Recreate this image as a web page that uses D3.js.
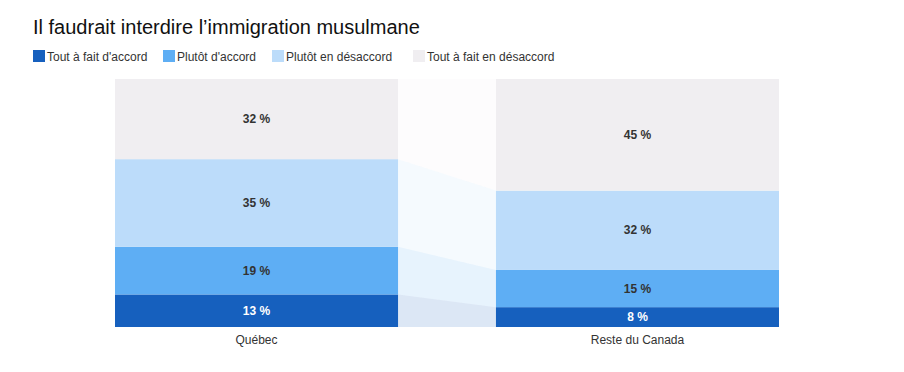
<!DOCTYPE html>
<html>
<head>
<meta charset="utf-8">
<script src="https://cdn.jsdelivr.net/npm/d3@7"></script>
<style>
  body { margin: 0; background: #fff; font-family: "Liberation Sans", Arial, sans-serif; }
  svg text { font-family: "Liberation Sans", Arial, sans-serif; }
</style>
</head>
<body>
<div id="chart"></div>
<script>
var regions = ["Québec", "Reste du Canada"];
var series = ["Tout à fait d'accord", "Plutôt d'accord", "Plutôt en désaccord", "Tout à fait en désaccord"];
var quebec = [13, 19, 35, 32];
var canada = [8, 15, 32, 45];
var colors = ["#1660be", "#5eaef4", "#bcdcfa", "#f0eef1"];

var W = 904, H = 372;
var margin = {top: 79, right: 125, bottom: 45, left: 115};
var width = W - margin.left - margin.right,
  height = H - margin.top - margin.bottom;

var svg = d3.select("#chart").append("svg")
  .attr("width", W)
  .attr("height", H);

svg.append("text")
  .attr("x", 33)
  .attr("y", 34)
  .style("font-size", "20px")
  .style("fill", "#111")
  .text("Il faudrait interdire l\u2019immigration musulmane");

// legend
var legendX = [33, 163, 272, 413];
var legend = svg.selectAll(".legend")
  .data(series)
  .enter().append("g")
  .attr("class", "legend")
  .attr("transform", function(d, i) { return "translate(" + legendX[i] + ",50)"; });

legend.append("rect")
  .attr("width", 12)
  .attr("height", 12)
  .style("fill", function(d, i) { return colors[i]; });

legend.append("text")
  .attr("x", 14)
  .attr("y", 10.5)
  .style("font-size", "12px")
  .style("fill", "#333")
  .text(function(d) { return d; });

var x = d3.scaleBand()
  .domain(regions)
  .range([0, width])
  .paddingInner(0.257)
  .paddingOuter(0);

var g = svg.append("g")
  .attr("transform", "translate(" + margin.left + "," + margin.top + ")");

var data = [quebec, canada].map(function(vals, j) {
  var total = d3.sum(vals);
  var y = d3.scaleLinear().domain([0, total]).range([height, 0]);
  var y0 = 0;
  return vals.map(function(v, i) {
    var s = {region: regions[j], idx: i, value: v, y0: y(y0), y1: y(y0 + v)};
    y0 += v;
    return s;
  });
});

// connector bands between bars
var xa = x(regions[0]) + x.bandwidth(), xb = x(regions[1]);
series.forEach(function(name, i) {
  var a = data[0][i], b = data[1][i];
  g.append("path")
    .attr("d", "M" + xa + "," + a.y1 + "L" + xb + "," + b.y1 + "L" + xb + "," + b.y0 + "L" + xa + "," + a.y0 + "Z")
    .style("fill", colors[i])
    .style("opacity", 0.15);
});

data.forEach(function(segs) {
  var col = g.append("g");
  col.selectAll("rect")
    .data(segs)
    .enter().append("rect")
    .attr("x", function(d) { return x(d.region); })
    .attr("width", x.bandwidth())
    .attr("y", function(d) { return d.y1; })
    .attr("height", function(d) { return d.y0 - d.y1; })
    .style("fill", function(d) { return colors[d.idx]; });

  col.selectAll("text")
    .data(segs)
    .enter().append("text")
    .attr("x", function(d) { return x(d.region) + x.bandwidth() / 2; })
    .attr("y", function(d) { return (d.y0 + d.y1) / 2; })
    .attr("dy", ".35em")
    .attr("text-anchor", "middle")
    .style("font-size", "12px")
    .style("font-weight", "bold")
    .style("fill", function(d) { return d.idx === 0 ? "#fff" : "#333"; })
    .text(function(d) { return d.value + " %"; });
});

var xAxis = d3.axisBottom(x).tickSize(0).tickPadding(8);
g.append("g")
  .attr("transform", "translate(0," + height + ")")
  .call(xAxis)
  .call(function(s) { s.select(".domain").remove(); })
  .selectAll("text")
  .style("font-size", "12px")
  .style("fill", "#333");
</script>
</body>
</html>
